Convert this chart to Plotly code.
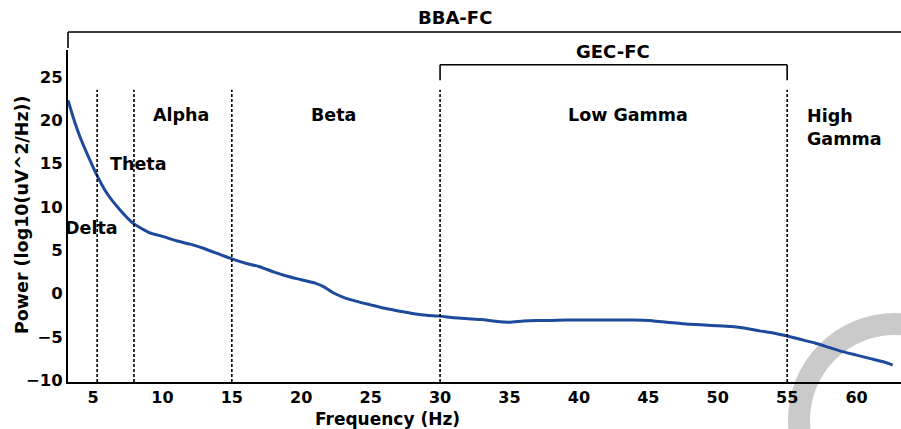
import plotly.graph_objects as go

# ---- data ----
freq_hz = [3.2, 3.6, 4.06, 4.78, 5.27, 5.99, 6.95, 7.9, 9.1, 10.0, 11.0, 12.0,
           13.0, 14.0, 15.0, 16.0, 17.0, 18.0, 19.0, 20.0, 21.0, 21.6, 22.3, 23.0,
           24.0, 25.0, 26.0, 27.0, 28.0, 29.0, 30.0, 31.0, 32.0, 33.0, 34.0, 35.0,
           36.0, 37.0, 38.0, 39.0, 40.0, 42.0, 44.0, 45.0, 46.0, 47.0, 48.0, 50.0,
           51.0, 52.0, 53.0, 54.0, 55.0, 56.0, 57.0, 58.0, 59.0, 60.0, 61.0, 62.0, 62.6]
power_db = [22.3, 20.2, 18.1, 15.4, 13.7, 11.6, 9.65, 8.1, 7.0, 6.6, 6.1, 5.7,
            5.2, 4.6, 4.0, 3.5, 3.1, 2.5, 2.0, 1.6, 1.2, 0.8, 0.1, -0.4,
            -0.9, -1.3, -1.7, -2.0, -2.3, -2.5, -2.6, -2.8, -2.9, -3.0, -3.2, -3.3,
            -3.15, -3.1, -3.1, -3.05, -3.05, -3.05, -3.05, -3.1, -3.25, -3.4, -3.55, -3.7,
            -3.8, -4.0, -4.3, -4.55, -4.9, -5.3, -5.7, -6.2, -6.7, -7.1, -7.5, -7.9, -8.25]

band_edges = [5.3, 7.95, 15.0, 30.0, 55.0]
band_names = ["Delta", "Theta", "Alpha", "Beta", "Low Gamma", "High<br>Gamma"]
band_label_x = [4.86, 8.24, 11.34, 22.3, 43.5, 56.3]
band_label_y = [7.6, 15.0, 20.6, 20.6, 20.6, 19.2]
band_label_anchor = ["center", "center", "center", "center", "center", "left"]

x_ticks = [5, 10, 15, 20, 25, 30, 35, 40, 45, 50, 55, 60]
y_ticks = [-10, -5, 0, 5, 10, 15, 20, 25]

x_range = [3.2, 63.2]
y_range = [-10.2, 28.1]

gec_span = [30.0, 55.0]

FONT = "DejaVu Sans, Verdana, sans-serif"

fig = go.Figure()
fig.add_trace(go.Scatter(x=freq_hz, y=power_db, mode="lines",
                         line=dict(color="#1d4a9c", width=3, shape="spline", smoothing=0.5),
                         showlegend=False, hoverinfo="x+y"))

shapes = []
# watermark ring
shapes.append(dict(type="circle", xref="paper", yref="paper", layer="below",
                   x0=(895 - 96 - 68) / 833, x1=(895 + 96 - 68) / 833,
                   y0=(382 - 420 - 96) / 332, y1=(382 - 420 + 96) / 332,
                   line=dict(color="#cacaca", width=22)))
# dashed band boundaries
for b in band_edges:
    shapes.append(dict(type="line", xref="x", yref="y", x0=b, x1=b, y0=y_range[0], y1=23.5,
                       line=dict(color="black", width=1.6, dash="3px,2px")))
# GEC-FC bracket
shapes.append(dict(type="line", xref="x", yref="y", x0=gec_span[0], x1=gec_span[1], y0=26.4, y1=26.4,
                   line=dict(color="black", width=1.6)))
for gx in gec_span:
    shapes.append(dict(type="line", xref="x", yref="y", x0=gx, x1=gx, y0=26.4, y1=24.6,
                       line=dict(color="black", width=1.6)))
# BBA-FC bracket
shapes.append(dict(type="line", xref="paper", yref="paper", x0=0, x1=1, y0=1.054, y1=1.054,
                   line=dict(color="black", width=1.6)))
shapes.append(dict(type="line", xref="paper", yref="paper", x0=0, x1=0, y0=1.054, y1=1.006,
                   line=dict(color="black", width=1.6)))

annotations = []
for name, lx, ly, anc in zip(band_names, band_label_x, band_label_y, band_label_anchor):
    annotations.append(dict(x=lx, y=ly, xref="x", yref="y", text=name, showarrow=False,
                            xanchor=anc, yanchor="middle", align="left",
                            font=dict(family=FONT, size=17.5, color="black", weight="bold")))
annotations.append(dict(x=(455 - 68) / 833, y=(382 - 18) / 332, xref="paper", yref="paper",
                        text="BBA-FC", showarrow=False, xanchor="center", yanchor="middle",
                        font=dict(family=FONT, size=18, color="black", weight="bold")))
annotations.append(dict(x=(613 - 68) / 833, y=(382 - 51) / 332, xref="paper", yref="paper",
                        text="GEC-FC", showarrow=False, xanchor="center", yanchor="middle",
                        font=dict(family=FONT, size=18, color="black", weight="bold")))
annotations.append(dict(x=(22 - 68) / 833, y=(382 - 215) / 332, xref="paper", yref="paper",
                        text="Power (log10(uV^2/Hz))", showarrow=False, textangle=-90,
                        xanchor="center", yanchor="middle",
                        font=dict(family=FONT, size=17.5, color="black", weight="bold")))
annotations.append(dict(x=(387 - 68) / 833, y=(382 - 419) / 332, xref="paper", yref="paper",
                        text="Frequency (Hz)", showarrow=False, xanchor="center", yanchor="middle",
                        font=dict(family=FONT, size=17, color="black", weight="bold")))

fig.update_layout(
    width=901, height=429,
    margin=dict(l=68, r=0, t=50, b=47),
    paper_bgcolor="white", plot_bgcolor="rgba(0,0,0,0)",
    shapes=shapes, annotations=annotations,
    xaxis=dict(range=x_range, tickvals=x_ticks, showgrid=False, zeroline=False,
               showline=True, linecolor="black", linewidth=2, ticks="",
               tickfont=dict(family=FONT, size=16, color="black", weight="bold")),
    yaxis=dict(range=y_range, tickvals=y_ticks, showgrid=False, zeroline=False,
               showline=True, linecolor="black", linewidth=2, ticks="",
               tickfont=dict(family=FONT, size=16.5, color="black", weight="bold")),
)

fig.write_html("out.html", config={"displayModeBar": False})

# remove the default page margin so the figure sits at the window's top-left corner
with open("out.html", "r", encoding="utf-8") as f:
    html = f.read()
html = html.replace("<head>", "<head><style>html,body{margin:0;padding:0;overflow:hidden;}</style>", 1)
with open("out.html", "w", encoding="utf-8") as f:
    f.write(html)
